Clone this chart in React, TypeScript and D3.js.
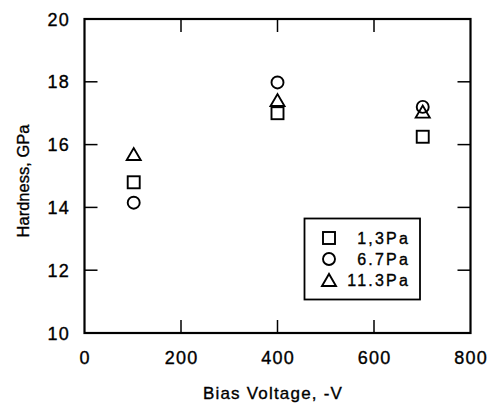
import React from "react";
import * as d3 from "d3";

const voltages = [102, 400, 701];
const hardness13 = [14.8, 17.0, 16.25];
const hardness67 = [14.15, 17.98, 17.2];
const hardness113 = [15.7, 17.42, 17.05];

const xTicks = [0, 200, 400, 600, 800];
const yTicks = [10, 12, 14, 16, 18, 20];
const legendLabels = ["1,3Pa", "6.7Pa", "11.3Pa"];

const W = 487;
const H = 403;
const m = { left: 84.5, right: 470.5, top: 19, bottom: 333 };
const font = "'Liberation Sans', Arial, sans-serif";

type Shape = "square" | "circle" | "triangle";

function Marker({ shape, cx, cy }: { shape: Shape; cx: number; cy: number }) {
  const st = { fill: "none", stroke: "#000", strokeWidth: 1.9 };
  if (shape === "square") return <rect x={cx - 6} y={cy - 6} width={12} height={12} {...st} />;
  if (shape === "circle") return <circle cx={cx} cy={cy} r={6} {...st} />;
  const tri = d3.line()([[cx - 7, cy + 6], [cx + 7, cy + 6], [cx, cy - 6]]) + "Z";
  return <path d={tri} {...st} strokeLinejoin="miter" />;
}

export default function App() {
  const x = d3.scaleLinear().domain([0, 800]).range([m.left, m.right]);
  const y = d3.scaleLinear().domain([10, 20]).range([m.bottom, m.top]);
  const tickLen = 13;

  const series: { shape: Shape; values: number[] }[] = [
    { shape: "square", values: hardness13 },
    { shape: "circle", values: hardness67 },
    { shape: "triangle", values: hardness113 },
  ];

  const innerX = xTicks.filter((t) => t > 0 && t < 800);
  const innerY = yTicks.filter((t) => t > 10 && t < 20);
  // scanned text looks heavier than plain regular weight
  const ink = { fill: "#000", stroke: "#000", strokeWidth: 0.35 };

  return (
    <svg width={W} height={H} style={{ position: "absolute", left: 0, top: 0, background: "#fff" }} fontFamily={font}>
      <rect x={0} y={0} width={W} height={H} fill="#fff" />
      {/* ticks on all sides, pointing inward */}
      <g stroke="#000" strokeWidth={1.5}>
        {innerX.map((t) => (
          <g key={"xt" + t}>
            <line x1={x(t)} x2={x(t)} y1={m.bottom} y2={m.bottom - tickLen} />
            <line x1={x(t)} x2={x(t)} y1={m.top} y2={m.top + tickLen} />
          </g>
        ))}
        {innerY.map((t) => (
          <g key={"yt" + t}>
            <line x1={m.left} x2={m.left + tickLen} y1={y(t)} y2={y(t)} />
            <line x1={m.right} x2={m.right - tickLen} y1={y(t)} y2={y(t)} />
          </g>
        ))}
      </g>
      <rect x={m.left} y={m.top} width={m.right - m.left} height={m.bottom - m.top} fill="none" stroke="#000" strokeWidth={2.2} />

      {/* tick labels */}
      <g fontSize={18} {...ink} letterSpacing={1.3}>
        {xTicks.map((t) => (
          <text key={"xl" + t} x={x(t) + 0.6} y={364} textAnchor="middle">{t}</text>
        ))}
        {yTicks.map((t) => (
          <text key={"yl" + t} x={70} y={y(t) + 6.5} textAnchor="end">{t}</text>
        ))}
      </g>

      {/* axis titles */}
      <text x={273} y={399} textAnchor="middle" fontSize={17} letterSpacing={1.2} {...ink}>Bias Voltage, -V</text>
      <text transform={`translate(29,${181}) rotate(-90)`} textAnchor="middle" fontSize={16.5} {...ink}>Hardness, GPa</text>

      {/* data */}
      {series.map((s) =>
        s.values.map((v, i) => (
          <Marker key={s.shape + i} shape={s.shape} cx={x(voltages[i])} cy={y(v)} />
        ))
      )}

      {/* legend */}
      <rect x={304.5} y={218.5} width={115.5} height={81} fill="#fff" stroke="#000" strokeWidth={1.8} />
      {series.map((s, i) => {
        const cy = 238 + i * 21;
        return (
          <g key={"lg" + i}>
            <Marker shape={s.shape} cx={329} cy={cy} />
            <text x={410} y={cy + 6} textAnchor="end" fontSize={16} letterSpacing={2.2} {...ink}>{legendLabels[i]}</text>
          </g>
        );
      })}
    </svg>
  );
}
